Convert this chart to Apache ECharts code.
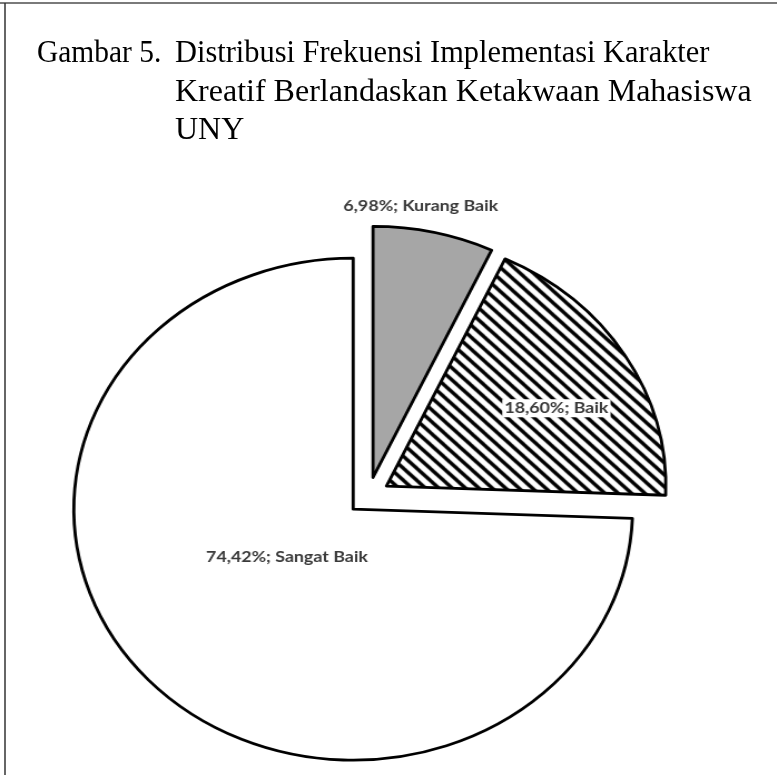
<!DOCTYPE html>
<html>
<head>
<meta charset="utf-8">
<script src="https://cdn.jsdelivr.net/npm/echarts@6/dist/echarts.min.js"></script>
<style>
  html, body { margin: 0; padding: 0; background: #fff; }
  #frame { position: absolute; left: 0; top: 0; width: 777px; height: 775px; }
  /* the pie in the source picture is stretched sideways into an ellipse */
  #pie { position: absolute; left: 0; top: 0; width: 698px; height: 775px;
         transform: scaleX(1.113); transform-origin: 0 0; }
</style>
</head>
<body>
<div id="frame"></div>
<div id="pie"></div>
<script>
// data
var categories = ['Kurang Baik', 'Baik', 'Sangat Baik'];
var percents = [6.98, 18.60, 74.42];
var figureNo = 'Gambar 5.';
var titleLines = [
    'Distribusi Frekuensi Implementasi Karakter',
    'Kreatif Berlandaskan Ketakwaan Mahasiswa',
    'UNY'
];

// label nudges (chart px, before the sideways stretch)
var labelShift = [[15, -146], [43, -11], [33, -42]];

function hatch() {
    var c = document.createElement('canvas');
    c.width = 12; c.height = 12;
    var g = c.getContext('2d');
    g.fillStyle = '#fff';
    g.fillRect(0, 0, 12, 12);
    g.strokeStyle = '#000';
    g.lineWidth = 3.4;
    for (var k = -1; k <= 1; k++) {
        g.beginPath();
        g.moveTo(k * 12 - 2, -2);
        g.lineTo(k * 12 + 14, 14);
        g.stroke();
    }
    return c;
}

var fills = ['#a6a6a6', { image: hatch(), repeat: 'repeat' }, '#ffffff'];
var titleFont = '32px "Liberation Serif"';

var frame = echarts.init(document.getElementById('frame'));
frame.setOption({
    animation: false,
    graphic: [
        { type: 'line', shape: { x1: 0, y1: 3, x2: 777, y2: 3 }, style: { stroke: '#7a7a7a', lineWidth: 2 } },
        { type: 'line', shape: { x1: 5, y1: 3, x2: 5, y2: 775 }, style: { stroke: '#333', lineWidth: 1.5 } },
        { type: 'text', x: 37, y: 70, scaleX: 0.92, style: { text: figureNo, font: titleFont, fill: '#000', verticalAlign: 'bottom' } },
        { type: 'text', x: 175, y: 70, scaleX: 0.95, style: { text: titleLines[0], font: titleFont, fill: '#000', verticalAlign: 'bottom' } },
        { type: 'text', x: 175, y: 109, style: { text: titleLines[1], font: titleFont, fill: '#000', verticalAlign: 'bottom' } },
        { type: 'text', x: 175, y: 147, style: { text: titleLines[2], font: titleFont, fill: '#000', verticalAlign: 'bottom' } }
    ]
});

var pie = echarts.init(document.getElementById('pie'));
pie.setOption({
    animation: false,
    series: [{
        type: 'pie',
        center: [331, 496],
        radius: 251,
        startAngle: 90,
        clockwise: true,
        selectedMode: 'multiple',
        selectedOffset: 19,
        avoidLabelOverlap: false,
        emphasis: { disabled: true },
        itemStyle: { borderColor: '#000', borderWidth: 2.8 },
        label: {
            position: 'inside',
            formatter: function (p) {
                return p.value.toFixed(2).replace('.', ',') + '%; ' + p.name;
            },
            fontFamily: 'Lato',
            fontWeight: 'bold',
            fontSize: 16,
            color: '#3a3a3a',
            backgroundColor: '#fff',
            padding: [1, 2]
        },
        labelLine: { show: false },
        labelLayout: function (p) {
            return { dx: labelShift[p.dataIndex][0], dy: labelShift[p.dataIndex][1] };
        },
        data: categories.map(function (name, i) {
            return { name: name, value: percents[i], selected: true, itemStyle: { color: fills[i] } };
        })
    }]
});
</script>
</body>
</html>
